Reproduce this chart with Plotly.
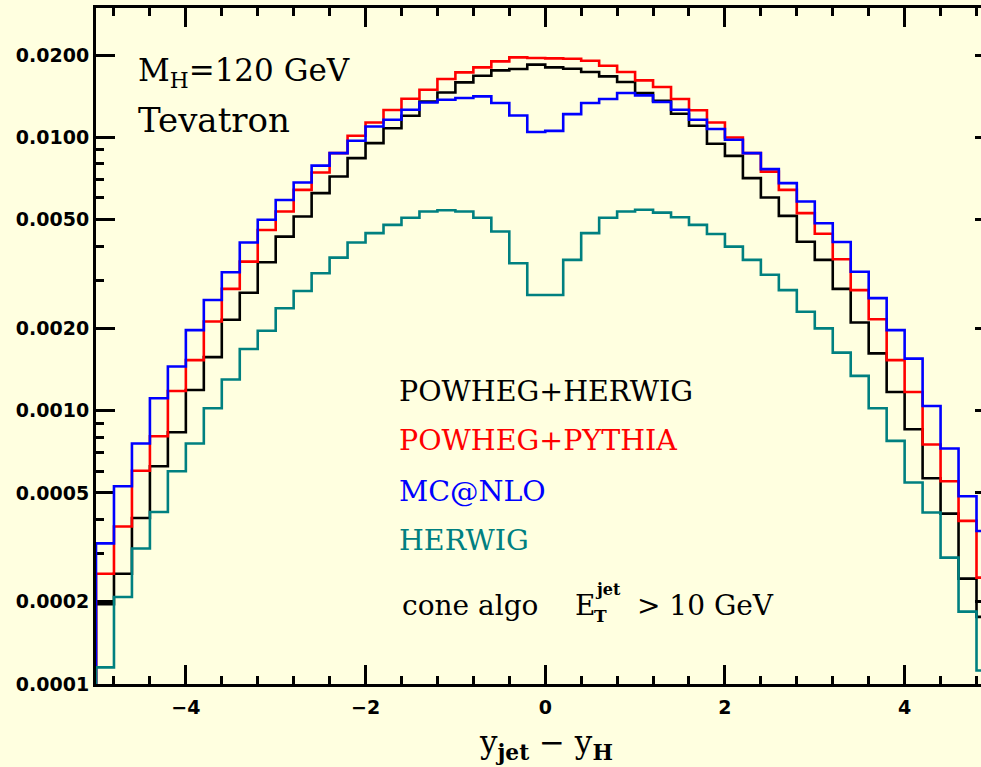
import plotly.graph_objects as go

# ---- data -------------------------------------------------------------
BIN_EDGES = [-5.0, -4.8, -4.6, -4.4, -4.2, -4.0, -3.8, -3.6, -3.4, -3.2,
             -3.0, -2.8, -2.6, -2.4, -2.2, -2.0, -1.8, -1.6, -1.4, -1.2,
             -1.0, -0.8, -0.6, -0.4, -0.2, 0.0, 0.2, 0.4, 0.6, 0.8,
             1.0, 1.2, 1.4, 1.6, 1.8, 2.0, 2.2, 2.4, 2.6, 2.8,
             3.0, 3.2, 3.4, 3.6, 3.8, 4.0, 4.2, 4.4, 4.6, 4.8, 5.0]

POWHEG_HERWIG = [1.96e-4, 2.53e-4, 4.05e-4, 6.26e-4, 8.34e-4, 1.19e-3, 1.57e-3, 2.15e-3, 2.70e-3, 3.49e-3,
                 4.33e-3, 5.13e-3, 6.25e-3, 7.19e-3, 8.39e-3, 9.52e-3, 1.079e-2, 1.199e-2, 1.352e-2, 1.459e-2,
                 1.588e-2, 1.680e-2, 1.757e-2, 1.778e-2, 1.844e-2, 1.802e-2, 1.782e-2, 1.734e-2, 1.670e-2, 1.593e-2,
                 1.452e-2, 1.361e-2, 1.219e-2, 1.102e-2, 9.47e-3, 8.55e-3, 7.09e-3, 6.02e-3, 5.16e-3, 4.15e-3,
                 3.56e-3, 2.79e-3, 2.10e-3, 1.62e-3, 1.17e-3, 8.55e-4, 5.66e-4, 4.20e-4, 2.43e-4, 1.76e-4]

POWHEG_PYTHIA = [2.53e-4, 3.77e-4, 6.03e-4, 8.06e-4, 1.18e-3, 1.53e-3, 2.12e-3, 2.79e-3, 3.51e-3, 4.58e-3,
                 5.35e-3, 6.42e-3, 7.43e-3, 8.75e-3, 1.013e-2, 1.133e-2, 1.258e-2, 1.384e-2, 1.493e-2, 1.634e-2,
                 1.728e-2, 1.802e-2, 1.896e-2, 1.961e-2, 1.951e-2, 1.944e-2, 1.939e-2, 1.906e-2, 1.828e-2, 1.734e-2,
                 1.615e-2, 1.528e-2, 1.380e-2, 1.256e-2, 1.133e-2, 9.98e-3, 8.75e-3, 7.49e-3, 6.42e-3, 5.28e-3,
                 4.44e-3, 3.58e-3, 2.76e-3, 2.16e-3, 1.53e-3, 1.17e-3, 7.52e-4, 5.52e-4, 3.95e-4, 2.45e-4]

MC_NLO = [3.27e-4, 5.29e-4, 7.58e-4, 1.11e-3, 1.45e-3, 1.97e-3, 2.54e-3, 3.21e-3, 4.12e-3, 4.99e-3,
          5.90e-3, 6.83e-3, 7.88e-3, 8.75e-3, 9.71e-3, 1.095e-2, 1.159e-2, 1.261e-2, 1.341e-2, 1.372e-2,
          1.392e-2, 1.411e-2, 1.335e-2, 1.202e-2, 1.045e-2, 1.056e-2, 1.216e-2, 1.335e-2, 1.380e-2, 1.452e-2,
          1.423e-2, 1.346e-2, 1.261e-2, 1.159e-2, 1.072e-2, 9.79e-3, 8.75e-3, 7.65e-3, 6.80e-3, 5.82e-3,
          4.85e-3, 4.14e-3, 3.22e-3, 2.58e-3, 1.97e-3, 1.55e-3, 1.04e-3, 7.27e-4, 4.86e-4, 3.63e-4]

HERWIG = [1.15e-4, 2.08e-4, 3.13e-4, 4.26e-4, 6.00e-4, 7.58e-4, 1.02e-3, 1.30e-3, 1.68e-3, 1.96e-3,
          2.37e-3, 2.74e-3, 3.18e-3, 3.63e-3, 4.12e-3, 4.46e-3, 4.78e-3, 5.08e-3, 5.35e-3, 5.41e-3,
          5.35e-3, 5.08e-3, 4.52e-3, 3.46e-3, 2.65e-3, 2.65e-3, 3.56e-3, 4.46e-3, 5.08e-3, 5.35e-3,
          5.43e-3, 5.30e-3, 5.10e-3, 4.78e-3, 4.43e-3, 3.98e-3, 3.56e-3, 3.14e-3, 2.76e-3, 2.30e-3,
          2.00e-3, 1.63e-3, 1.34e-3, 1.02e-3, 7.75e-4, 5.46e-4, 4.24e-4, 2.90e-4, 1.84e-4, 1.12e-4]

SERIES_NAMES = ["POWHEG+HERWIG", "POWHEG+PYTHIA", "MC@NLO", "HERWIG"]
SERIES_VALUES = [POWHEG_HERWIG, POWHEG_PYTHIA, MC_NLO, HERWIG]
SERIES_COLORS = ["#000000", "#FF0000", "#0000FF", "#008080"]

Y_TICK_VALS = [0.0001, 0.0002, 0.0005, 0.001, 0.002, 0.005, 0.01, 0.02]
Y_TICK_TEXT = ["0.0001", "0.0002", "0.0005", "0.0010", "0.0020", "0.0050", "0.0100", "0.0200"]
Y_MINOR_VALS = [0.0003, 0.0004, 0.0006, 0.0007, 0.0008, 0.0009,
                0.003, 0.004, 0.006, 0.007, 0.008, 0.009]

Y_LOG_RANGE = [-4, -1.527]
Y_FLOOR = 1e-4
X_RANGE = [-5, 4.85]

BG = "#FFFFE0"
TXT_FONT = "'DejaVu Serif', serif"
TICK_FONT = dict(family="'DejaVu Sans', Verdana, sans-serif", size=19, color="black", weight="bold")

# ---- figure -----------------------------------------------------------
fig = go.Figure()
for name, vals, col in zip(SERIES_NAMES, SERIES_VALUES, SERIES_COLORS):
    xs = [BIN_EDGES[0]] + BIN_EDGES
    ys = [Y_FLOOR] + vals + [vals[-1]]
    fig.add_trace(go.Scatter(x=xs, y=ys, mode="lines", name=name,
                             line=dict(color=col, width=2.6, shape="hv"),
                             hoverinfo="skip"))

# dummy trace so the right-hand tick axis is drawn
fig.add_trace(go.Scatter(x=[None], y=[None], yaxis="y2", showlegend=False, hoverinfo="skip"))

fig.update_layout(
    width=981, height=767,
    margin=dict(l=96, r=0, t=8, b=83, autoexpand=False),
    paper_bgcolor=BG, plot_bgcolor=BG,
    showlegend=False,
    xaxis=dict(range=X_RANGE, showline=True, linewidth=3, linecolor="black",
               mirror="ticks", ticks="inside", ticklen=19, tickwidth=3, tickcolor="black",
               tick0=0, dtick=2, tickfont=TICK_FONT, showgrid=False, zeroline=False,
               layer="below traces", ticklabelstandoff=4,
               minor=dict(tick0=0, dtick=0.4, ticks="inside", ticklen=8, tickwidth=3,
                          tickcolor="black", showgrid=False)),
    yaxis=dict(type="log", range=Y_LOG_RANGE, showline=True, linewidth=3, linecolor="black",
               mirror=False, ticks="inside", ticklen=19, tickwidth=3, tickcolor="black",
               tickmode="array", tickvals=Y_TICK_VALS, ticktext=Y_TICK_TEXT,
               tickfont=TICK_FONT, showgrid=False, zeroline=False, layer="below traces",
               minor=dict(tickmode="array", tickvals=Y_MINOR_VALS, ticks="inside", ticklen=8,
                          tickwidth=3, tickcolor="black", showgrid=False)),
    yaxis2=dict(type="log", range=Y_LOG_RANGE, overlaying="y", side="right",
                showline=False, ticks="inside", ticklen=6, tickwidth=3, tickcolor="black",
                tickmode="array", tickvals=Y_TICK_VALS, showticklabels=False,
                showgrid=False, zeroline=False),
)

def ann(text, x, y, size, color="black", xanchor="left"):
    fig.add_annotation(text=text, x=x, y=y, xref="paper", yref="paper",
                       xanchor=xanchor, yanchor="middle", showarrow=False,
                       font=dict(family=TXT_FONT, size=size, color=color))

ann("M<sub>H</sub>=120 GeV", 0.045, 0.905, 31)
ann("Tevatron", 0.045, 0.834, 34)

legend_y = [0.4334, 0.3595, 0.2855, 0.2123]
for name, col, yy in zip(SERIES_NAMES, SERIES_COLORS, legend_y):
    ann(name, 0.340, yy, 28.5, col)

ann("cone algo", 0.3435, 0.1154, 28)
ann("E", 0.539, 0.1154, 28)
ann("<b>jet</b>", 0.5616, 0.140, 16)
ann("<b>T</b>", 0.5605, 0.101, 17)
ann("> 10 GeV", 0.609, 0.1154, 28)

# axis title
ann("y<sub><b>jet</b></sub> − y<sub><b>H</b></sub>", 0.508, -0.090, 31, xanchor="center")

fig.write_html("out.html")
